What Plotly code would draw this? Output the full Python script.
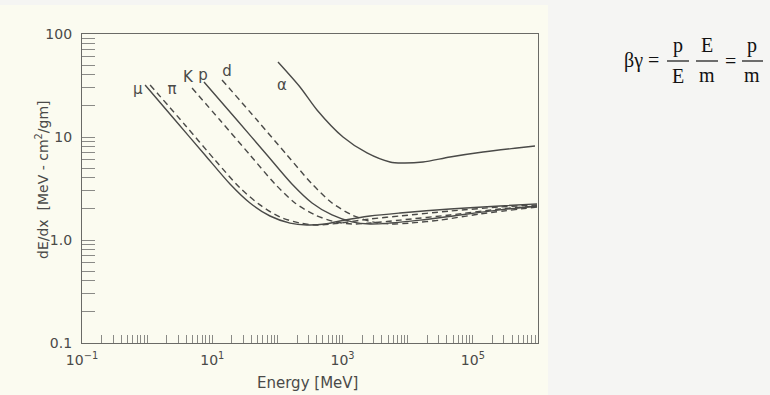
import plotly.graph_objects as go

# Stopping power dE/dx [MeV cm^2/gm] against kinetic energy [MeV]
mu_energy = [0.93, 2.68, 7.73, 18.7, 37.9, 76.9, 156, 284, 537, 914, 2636, 7620, 44570, 261200, 966000]
mu_dedx = [32.0, 14.6, 6.69, 3.50, 2.29, 1.71, 1.46, 1.40, 1.43, 1.53, 1.71, 1.83, 2.00, 2.14, 2.24]

pi_energy = [1.11, 3.81, 11.0, 26.7, 54.0, 110, 222, 420, 914, 2636, 7620, 44570, 261200, 966000]
pi_dedx = [32.0, 13.1, 5.98, 3.20, 2.19, 1.67, 1.46, 1.40, 1.46, 1.60, 1.71, 1.91, 2.09, 2.19]

k_energy = [4.89, 13.1, 37.9, 91.8, 186, 378, 766, 1396, 2636, 7620, 44570, 261200, 966000]
k_dedx = [29.9, 14.6, 6.69, 3.50, 2.29, 1.75, 1.50, 1.43, 1.46, 1.56, 1.75, 2.00, 2.14]

p_energy = [7.46, 23.9, 69.2, 167, 340, 689, 1396, 2636, 5346, 15450, 63500, 261200, 966000]
p_dedx = [34.2, 14.6, 6.69, 3.50, 2.29, 1.75, 1.50, 1.43, 1.46, 1.56, 1.75, 1.96, 2.14]

d_energy = [14.1, 48.6, 140, 340, 689, 1396, 2831, 5346, 10840, 31330, 128800, 966000]
d_dedx = [35.8, 14.6, 6.69, 3.50, 2.29, 1.75, 1.50, 1.43, 1.46, 1.56, 1.79, 2.09]

alpha_energy = [102, 222, 405, 1016, 2372, 5346, 8170, 17180, 44570, 143200, 476400, 899500]
alpha_dedx = [53.5, 30.6, 18.3, 10.0, 7.0, 5.72, 5.59, 5.72, 6.40, 7.15, 7.82, 8.18]

# curve labels: text, energy, dE/dx
label_text = ["μ", "π", "K", "p", "d", "α"]
label_energy = [0.72, 2.41, 4.24, 7.21, 16.8, 117]
label_dedx = [28.6, 28.6, 37.4, 39.1, 42.8, 31.3]

x_tick_vals = [0.1, 10, 1000, 100000]
x_tick_text = ["10<sup>−1</sup>", "10<sup>1</sup>", "10<sup>3</sup>", "10<sup>5</sup>"]
y_tick_vals = [0.1, 1, 10, 100]
y_tick_text = ["0.1", "1.0", "10", "100"]

INK = "#4a4a48"
CREAM = "#fbfbf0"
W, H = 770, 395
L, R, T, B = 82, 538, 34, 343


def px(x):
    return (x - L) / (R - L)


def py(y):
    return (B - y) / (B - T)


series = [
    (mu_energy, mu_dedx, "solid"),
    (pi_energy, pi_dedx, "dash"),
    (k_energy, k_dedx, "dash"),
    (p_energy, p_dedx, "solid"),
    (d_energy, d_dedx, "dash"),
    (alpha_energy, alpha_dedx, "solid"),
]

fig = go.Figure()
for xs, ys, dash in series:
    fig.add_trace(go.Scatter(
        x=xs, y=ys, mode="lines",
        line=dict(color=INK, width=1.4, shape="spline", smoothing=0.8,
                  dash="6px,4px" if dash == "dash" else "solid"),
        showlegend=False, hoverinfo="skip",
    ))

fig.add_trace(go.Scatter(
    x=label_energy, y=label_dedx, mode="text", text=label_text,
    textfont=dict(family="DejaVu Sans", size=15, color=INK),
    showlegend=False, hoverinfo="skip",
))

axis_common = dict(
    type="log", showgrid=False, zeroline=False, showline=True,
    linecolor="#6a6a66", linewidth=1.3, mirror=True,
    tickfont=dict(family="DejaVu Sans", size=14, color=INK),
    tickcolor="#8a8a86", ticks="inside",
)

fig.update_xaxes(
    **axis_common, range=[-1, 6], tickvals=x_tick_vals, ticktext=x_tick_text,
    ticklen=8, ticklabelstandoff=4,
    minor=dict(ticks="inside", ticklen=8, tickcolor="#8a8a86", dtick="D1", showgrid=False),
)
fig.update_yaxes(
    **axis_common, range=[-1, 2], tickvals=y_tick_vals, ticktext=y_tick_text,
    ticklen=13, ticklabelstandoff=6,
    minor=dict(ticks="inside", ticklen=13, tickcolor="#8a8a86", dtick="D1", showgrid=False),
)

annotations = [
    dict(x=px(307), y=py(383), text="Energy [MeV]", textangle=0,
         font=dict(family="DejaVu Sans", size=15, color=INK)),
    dict(x=px(42), y=py(180), text="dE/dx  [MeV - cm<sup>2</sup>/gm]", textangle=-90,
         font=dict(family="DejaVu Sans", size=14, color=INK)),
]

# beta-gamma relation beside the chart
serif = dict(family="Liberation Serif", size=20, color="#111111")
annotations += [
    dict(x=px(641), y=py(61), text="βγ =", font=serif),
    dict(x=px(678), y=py(46), text="p", font=serif),
    dict(x=px(678), y=py(76), text="E", font=serif),
    dict(x=px(707), y=py(45), text="E", font=serif),
    dict(x=px(707), y=py(75), text="m", font=serif),
    dict(x=px(730), y=py(61), text="=", font=serif),
    dict(x=px(752), y=py(46), text="p", font=serif),
    dict(x=px(752), y=py(75), text="m", font=serif),
]
for a in annotations:
    a.update(xref="paper", yref="paper", showarrow=False, xanchor="center", yanchor="middle")

shapes = [
    dict(type="rect", xref="paper", yref="paper", x0=px(0), x1=px(548), y0=py(395), y1=py(5),
         fillcolor=CREAM, line=dict(width=0), layer="below"),
]
for x0, x1 in [(667, 689), (696, 718), (742, 763)]:
    shapes.append(dict(type="line", xref="paper", yref="paper", x0=px(x0), x1=px(x1),
                       y0=py(61), y1=py(61), line=dict(color="#111111", width=1.2)))

fig.update_layout(
    width=W, height=H,
    margin=dict(l=L, r=W - R, t=T, b=H - B),
    paper_bgcolor="#f5f5f3", plot_bgcolor=CREAM,
    annotations=annotations, shapes=shapes,
)

fig.write_html("out.html")
